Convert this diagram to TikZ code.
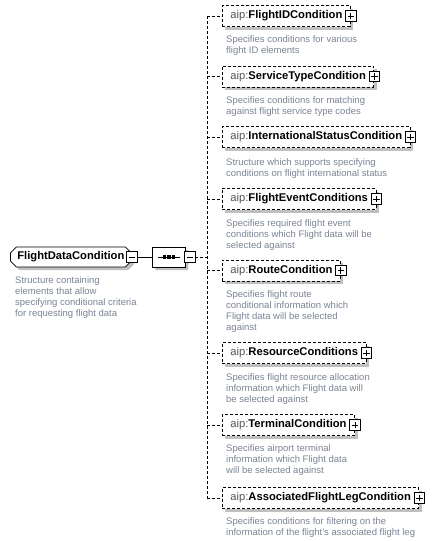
\documentclass[tikz,border=0pt]{standalone}
\usepackage{fontspec}
\setmainfont{Liberation Sans}
\usetikzlibrary{shapes.misc}
\definecolor{descc}{RGB}{122,132,148}
\definecolor{prefc}{RGB}{85,85,85}
\definecolor{shadc}{RGB}{192,192,192}
\tikzset{
  shadowed/.style={preaction={fill=shadc, draw=none, solid, transform canvas={shift={(3pt,-3pt)}}}},
  elem/.style={draw, line width=0.8pt, dash pattern=on 3pt off 2pt, fill=white, shadowed,
    minimum height=21pt, inner xsep=8pt, inner ysep=0pt, anchor=west,
    font=\fontsize{11.2}{13}\selectfont},
  rootbox/.style={draw, line width=0.8pt, fill=white, shadowed, chamfered rectangle,
    chamfered rectangle xsep=3pt, chamfered rectangle ysep=3pt,
    minimum height=20pt, inner xsep=4pt, inner ysep=0pt, anchor=west,
    font=\fontsize{11.2}{13}\selectfont\bfseries},
  seqbox/.style={draw, line width=0.8pt, fill=white, shadowed, chamfered rectangle,
    chamfered rectangle xsep=7pt, chamfered rectangle ysep=7pt,
    minimum width=33pt, minimum height=20pt, inner sep=0pt, anchor=west},
  pmbox/.style={draw, solid, line width=0.8pt, fill=white, minimum size=10.5pt, inner sep=0pt},
  plusbox/.style={pmbox, path picture={
    \draw[line width=0.9pt] ([xshift=2pt]path picture bounding box.west) -- ([xshift=-2pt]path picture bounding box.east)
      ([yshift=2pt]path picture bounding box.south) -- ([yshift=-2pt]path picture bounding box.north);}},
  minusbox/.style={pmbox, path picture={
    \draw[line width=0.9pt] ([xshift=2pt]path picture bounding box.west) -- ([xshift=-2pt]path picture bounding box.east);}},
  desc/.style={anchor=north west, inner sep=0pt, align=left, text=descc,
    font=\fontsize{9.5}{11}\selectfont},
  conn/.style={line width=0.8pt},
  dconn/.style={line width=0.8pt, dash pattern=on 3pt off 2pt},
}
\newcommand{\elabel}[1]{\textcolor{prefc}{aip:}\textbf{#1}\hspace{4pt}}
\begin{document}
\begin{tikzpicture}[x=1pt,y=-1pt]
\useasboundingbox (0,0) rectangle (432,541);

% root
\node[rootbox] (root) at (10,257) {FlightDataCondition\hspace{9pt}};
\node[minusbox] (rootm) at (root.east) {};
\node[desc] (rootd) at (15,276) {Structure containing\\elements that allow\\specifying conditional criteria\\for requesting flight data};

% sequence
\node[seqbox] (seq) at (152,257) {};
\draw[conn] ([xshift=-11pt]seq.center) -- ([xshift=11pt]seq.center);
\foreach \dx in {-4.5,0,4.5}
  \fill ([xshift=\dx pt]seq.center) +(-1.6pt,-1.6pt) rectangle +(1.6pt,1.6pt);
\node[minusbox] (seqm) at ([xshift=4pt]seq.east) {};
\draw[conn] (rootm.east) -- (seq.west);

% bus
\coordinate (vtop) at (207,16);
\coordinate (vbot) at (207,498);
\draw[dconn] (seqm.east) -- (seqm.east -| vtop);
\draw[dconn] (vtop) -- (vbot);

% children
\node[elem] (c1) at (222,16) {\elabel{FlightIDCondition}};
\node[elem] (c2) at (222,76.5) {\elabel{ServiceTypeCondition}};
\node[elem] (c3) at (222,137) {\elabel{InternationalStatusCondition}};
\node[elem] (c4) at (222,199) {\elabel{FlightEventConditions}};
\node[elem] (c5) at (222,270.5) {\elabel{RouteCondition}};
\node[elem] (c6) at (222,353) {\elabel{ResourceConditions}};
\node[elem] (c7) at (222,425) {\elabel{TerminalCondition}};
\node[elem] (c8) at (222,498) {\elabel{AssociatedFlightLegCondition}};
\foreach \c in {c1,c2,c3,c4,c5,c6,c7,c8}{
  \node[plusbox] (\c p) at (\c.east) {};
  \draw[dconn] (\c.west -| vtop) -- (\c.west);
}

\node[desc] (d1) at (226,35) {Specifies conditions for various\\flight ID elements};
\node[desc] (d2) at (226,96.5) {Specifies conditions for matching\\against flight service type codes};
\node[desc] (d3) at (226,158.5) {Structure which supports specifying\\conditions on flight international status};
\node[desc] (d4) at (226,219.5) {Specifies required flight event\\conditions which Flight data will be\\selected against};
\node[desc] (d5) at (226,290.5) {Specifies flight route\\conditional information which\\Flight data will be selected\\against};
\node[desc] (d6) at (226,373.5) {Specifies flight resource allocation\\information which Flight data will\\be selected against};
\node[desc] (d7) at (226,444.5) {Specifies airport terminal\\information which Flight data\\will be selected against};
\node[desc] (d8) at (226,517.5) {Specifies conditions for filtering on the\\information of the flight's associated flight leg};
\end{tikzpicture}
\end{document}
